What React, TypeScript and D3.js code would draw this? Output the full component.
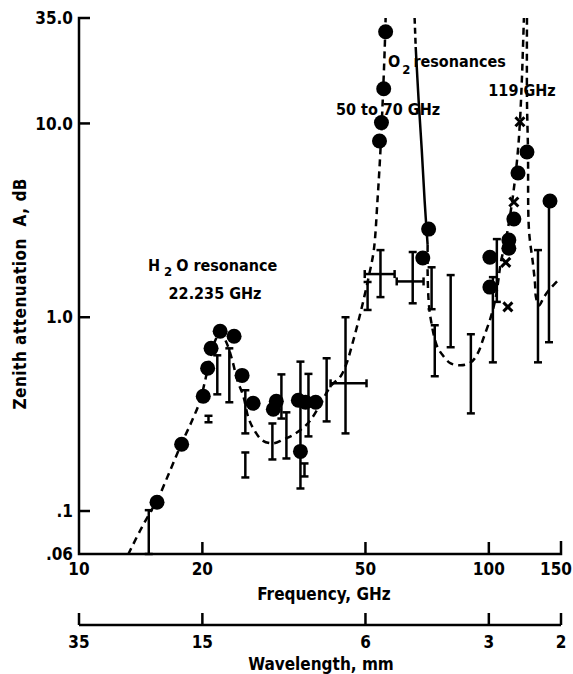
import React from "react";
import * as d3 from "d3";

const W = 573;
const H = 674;

// Axis ticks
const freqTicks = [10, 20, 50, 100, 150];
const freqTickLabels = ["10", "20", "50", "100", "150"];
const attTicks = [35, 10, 1, 0.1, 0.06];
const attTickLabels = ["35.0", "10.0", "1.0", ".1", ".06"];
const wavelengthLabels = ["35", "15", "6", "3", "2"];
const wavelengthAtFreq = [10, 20, 50, 100, 150];

// Measured attenuation, filled circles: [GHz, dB]
const circlePoints: [number, number][] = [
  [15.5, 0.111], [17.8, 0.221], [20.1, 0.391], [20.6, 0.545], [21.0, 0.691],
  [22.1, 0.847], [23.9, 0.798], [25.0, 0.501], [26.6, 0.36], [29.8, 0.335],
  [30.3, 0.368], [34.3, 0.373], [35.7, 0.364], [37.8, 0.364], [34.7, 0.203],
  [56.0, 29.7], [55.4, 15.1], [54.7, 10.1], [54.1, 8.12], [71.3, 2.85],
  [69.0, 2.02], [100.6, 2.04], [100.6, 1.43], [111.9, 2.5], [111.9, 2.27],
  [115.1, 3.21], [117.8, 5.55], [123.9, 7.12], [141.0, 3.98],
];

// Crosses: [GHz, dB]
const crossPoints: [number, number][] = [
  [119.1, 10.2], [115.1, 3.93], [110.0, 1.92], [111.3, 1.13],
];

// Vertical error bars: [GHz, low dB, high dB]
const errorBars: [number, number, number][] = [
  [14.8, 0.06, 0.101], [20.7, 0.287, 0.31], [21.75, 0.4, 0.636], [23.27, 0.364, 0.691],
  [25.46, 0.2515, 0.42], [25.46, 0.149, 0.2005], [29.64, 0.1845, 0.283],
  [31.18, 0.3, 0.507], [32.07, 0.1867, 0.323], [34.7, 0.1307, 0.59],
  [35.5, 0.1508, 0.176], [36.3, 0.2427, 0.51], [40.2, 0.29, 0.614],
  [44.7, 0.2515, 1.0], [50.6, 1.09, 1.52], [54.4, 1.27, 2.22], [65.2, 1.18, 2.17],
  [72.5, 1.1, 1.81], [73.8, 0.496, 0.909], [80.7, 0.7, 1.65], [90.4, 0.319, 0.817],
  [102.3, 0.585, 1.61], [104.6, 1.2, 2.53], [131.8, 0.585, 2.22], [140.2, 0.743, 3.98],
];

// Horizontal error bars: [low GHz, high GHz, dB]
const hBars: [number, number, number][] = [
  [41.1, 50.3, 0.456], [49.8, 58.9, 1.67], [59.6, 69.3, 1.53],
];

// Model curve: water line + lower O2 flank
const curveH2O: [number, number][] = [
  [13.18, 0.0596], [14.1, 0.0793], [14.91, 0.0982], [15.51, 0.1133], [16.69, 0.162],
  [17.76, 0.221], [18.89, 0.294], [19.76, 0.372], [20.32, 0.473], [20.91, 0.614],
  [21.51, 0.76], [22.12, 0.837], [22.88, 0.743], [23.66, 0.599], [24.34, 0.473],
  [25.18, 0.391], [25.89, 0.304], [26.78, 0.261], [28.02, 0.2314], [29.81, 0.2233],
  [31.53, 0.234], [33.17, 0.2456], [35.1, 0.267], [36.7, 0.294], [38.8, 0.355],
  [41.1, 0.44], [43.5, 0.496], [44.97, 0.578], [46.5, 0.734], [48.6, 1.05],
  [50.9, 1.61], [52.4, 2.22], [53.5, 4.02], [54.4, 7.3], [55.1, 13.2],
  [55.7, 24.0], [56.0, 35.1],
];
// Upper O2 flank (dashed top)
const curveO2Top: [number, number][] = [[65.9, 35.1], [66.3, 24.8]];
// Upper O2 flank (solid)
const curveO2Solid: [number, number][] = [
  [66.3, 24.8], [67.4, 13.2], [68.6, 7.3], [69.7, 4.02], [70.9, 2.36],
];
// Trough between O2 band and 119 GHz line
const curveTrough: [number, number][] = [
  [70.9, 2.36], [70.9, 1.69], [71.3, 1.22], [72.1, 0.988], [74.6, 0.717],
  [77.2, 0.636], [80.7, 0.578], [85.4, 0.565], [90.4, 0.585], [94.0, 0.652],
  [97.2, 0.788], [101.1, 1.0], [104.0, 1.27], [107.0, 1.92], [110.0, 2.5],
  [113.2, 3.57], [115.8, 5.11], [117.8, 7.3], [119.1, 10.2], [120.4, 16.8],
  [121.1, 24.0], [121.8, 35.1],
];
// Upper flank of 119 GHz line
const curve119: [number, number][] = [
  [123.9, 35.1], [123.9, 13.2], [124.6, 7.3], [125.3, 2.82], [128.1, 1.9],
  [129.6, 1.5], [130.3, 1.27], [132.5, 1.15], [136.3, 1.27], [140.2, 1.38],
  [148.3, 1.57],
];

const FONT = "'DejaVu Sans Condensed', 'DejaVu Sans', sans-serif";

export default function App() {
  const x = d3.scaleLog().domain([10, 150]).range([79, 561]);
  const y = d3.scaleLog().domain([0.06, 35]).range([554, 18]);
  const line = d3
    .line<[number, number]>()
    .x((d) => x(d[0]))
    .y((d) => y(d[1]))
    .curve(d3.curveCatmullRom.alpha(0.5));

  const x0 = x(10), x1 = x(150), yTop = y(35), yBot = y(0.06);
  const wlY = 625;
  const sw = 2.5;
  const cap = 4;
  const textStyle: React.CSSProperties = {
    fontFamily: FONT,
    fontWeight: "bold",
    fontStretch: "condensed",
  };

  return (
    <div style={{ position: "absolute", left: 0, top: 0 }}>
      <svg width={W} height={H} style={{ display: "block", background: "#fff" }}>
        <defs>
          <clipPath id="plot">
            <rect x={x0} y={yTop} width={x1 - x0} height={yBot - yTop} />
          </clipPath>
        </defs>
        <g stroke="#000" fill="none" strokeWidth={sw} strokeLinecap="butt">
          <path d={`M${x0 + 11},${yTop} L${x0},${yTop} L${x0},${yBot} L${x1},${yBot} L${x1},${yBot - 13}`} />
          {attTicks.slice(1, 4).map((t) => (
            <line key={t} x1={x0} x2={x0 + 11} y1={y(t)} y2={y(t)} />
          ))}
          {freqTicks.slice(1, 4).map((t) => (
            <line key={t} x1={x(t)} x2={x(t)} y1={yBot} y2={yBot - 12} />
          ))}
          <line x1={x0} x2={x1} y1={wlY} y2={wlY} />
          {wavelengthAtFreq.map((f) => (
            <line key={f} x1={x(f)} x2={x(f)} y1={wlY} y2={wlY - 12} />
          ))}
        </g>

        <g clipPath="url(#plot)" stroke="#000" fill="none" strokeWidth={sw}>
          <path d={line(curveH2O) || ""} strokeDasharray="7 5" />
          <path d={line(curveO2Top) || ""} strokeDasharray="6 4" />
          <path d={line(curveO2Solid) || ""} />
          <path d={line(curveTrough) || ""} strokeDasharray="7 5" />
          <path d={line(curve119) || ""} strokeDasharray="7 5" />
        </g>

        <g stroke="#000" strokeWidth={sw} fill="none">
          {errorBars.map(([f, lo, hi], i) => (
            <g key={i}>
              <line x1={x(f)} x2={x(f)} y1={y(lo)} y2={y(hi)} />
              <line x1={x(f) - cap} x2={x(f) + cap} y1={y(hi)} y2={y(hi)} />
              <line x1={x(f) - cap} x2={x(f) + cap} y1={y(lo)} y2={y(lo)} />
            </g>
          ))}
          {hBars.map(([lo, hi, a], i) => (
            <g key={i}>
              <line x1={x(lo)} x2={x(hi)} y1={y(a)} y2={y(a)} />
              <line x1={x(lo)} x2={x(lo)} y1={y(a) - cap} y2={y(a) + cap} />
              <line x1={x(hi)} x2={x(hi)} y1={y(a) - cap} y2={y(a) + cap} />
            </g>
          ))}
          {crossPoints.map(([f, a], i) => (
            <path
              key={i}
              strokeWidth={3}
              d={`M${x(f) - 4.5},${y(a) - 4.5}L${x(f) + 4.5},${y(a) + 4.5}M${x(f) - 4.5},${y(a) + 4.5}L${x(f) + 4.5},${y(a) - 4.5}`}
            />
          ))}
        </g>

        <g fill="#000">
          {circlePoints.map(([f, a], i) => (
            <circle key={i} cx={x(f)} cy={y(a)} r={7.5} />
          ))}
        </g>

        <g style={textStyle} fill="#000">
          {attTicks.map((t, i) => (
            <text key={t} x={73} y={y(t)} dy="0.36em" textAnchor="end" fontSize={17}>
              {attTickLabels[i]}
            </text>
          ))}
          {freqTicks.map((t, i) => (
            <text
              key={t}
              x={i === freqTicks.length - 1 ? 572 : x(t)}
              y={575}
              textAnchor={i === freqTicks.length - 1 ? "end" : "middle"}
              fontSize={17}
            >
              {freqTickLabels[i]}
            </text>
          ))}
          <text x={324} y={600} textAnchor="middle" fontSize={17}>Frequency, GHz</text>
          {wavelengthAtFreq.map((f, i) => (
            <text key={f} x={x(f)} y={648} textAnchor="middle" fontSize={17}>
              {wavelengthLabels[i]}
            </text>
          ))}
          <text x={321} y={670} textAnchor="middle" fontSize={17}>Wavelength, mm</text>
          <text
            transform="translate(26,178) rotate(-90)"
            textAnchor="end"
            fontSize={17}
            letterSpacing={0.5}
            style={{ whiteSpace: "pre" }}
          >
            {"Zenith attenuation  A, dB"}
          </text>

          <text x={148} y={271} fontSize={16}>
            H<tspan dx={4} dy={5} fontSize={13}>2</tspan>
            <tspan dx={4} dy={-5}>O resonance</tspan>
          </text>
          <text x={215} y={299} textAnchor="middle" fontSize={16}>22.235 GHz</text>
          <text x={388} y={67} fontSize={16}>
            O<tspan dx={2} dy={7} fontSize={13}>2</tspan>
            <tspan dx={3} dy={-7}>resonances</tspan>
          </text>
          <text x={522} y={96} textAnchor="middle" fontSize={16}>119 GHz</text>
          <text x={388} y={115} textAnchor="middle" fontSize={16}>50 to 70 GHz</text>
        </g>
      </svg>
    </div>
  );
}
